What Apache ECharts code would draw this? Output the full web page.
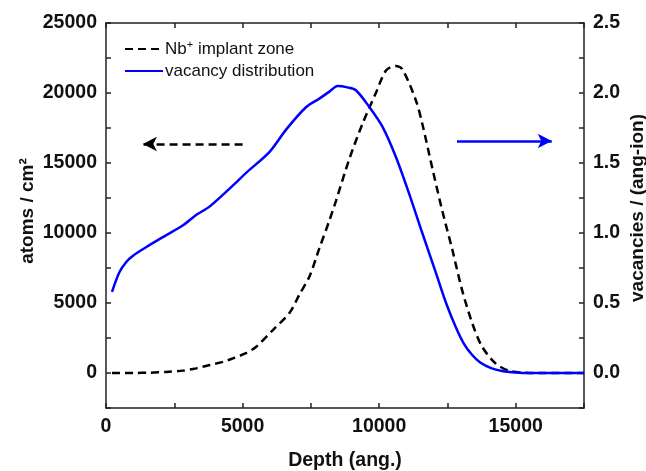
<!DOCTYPE html>
<html>
<head>
<meta charset="utf-8">
<script src="https://cdn.jsdelivr.net/npm/echarts@6/dist/echarts.min.js"></script>
<style>html,body{margin:0;padding:0;background:#fff;}#chart{width:646px;height:471px;}</style>
</head>
<body>
<div id="chart"></div>
<script>
// Depth (ang.) vs implanted atoms (left axis)
const implantDepth = [220,1000,1600,2200,2820,3300,3800,4300,4650,5100,5500,6110,6720,7080,7450,7810,8180,8420,8910,9390,9880,10250,10610,10850,11340,11580,11950,12310,12680,13040,13410,13770,14260,14750,15300,16000,17500];
const implantAtoms = [0,5,20,80,170,330,570,800,1050,1400,1880,3070,4300,5600,6900,8900,10900,12300,15300,17800,20000,21600,21930,21700,19500,17800,14600,11600,8800,5900,3550,1880,690,160,30,0,0];
// Depth (ang.) vs vacancies (right axis)
const vacDepth = [220,490,750,1000,1480,2210,2820,3310,3800,4650,5130,5990,6600,7330,7810,8180,8480,8840,9150,9640,10120,10610,11100,11580,12070,12450,12800,13100,13400,13700,14100,14500,15000,15500,16000,17500];
const vacValues = [0.58,0.72,0.795,0.84,0.90,0.985,1.055,1.13,1.19,1.34,1.43,1.58,1.74,1.90,1.96,2.01,2.05,2.04,2.02,1.90,1.76,1.545,1.28,1.0,0.72,0.50,0.33,0.21,0.13,0.075,0.035,0.015,0.004,0,0,0];
// Arrow annotations (data coordinates)
const leftArrow = {from:[5000,16360], to:[1350,16360]};
const rightArrow = {from:[12850,1.657], to:[16320,1.657]};

const seriesNames = ['Nb+ implant zone','vacancy distribution'];

const chart = echarts.init(document.getElementById('chart'));
const font = 'Liberation Sans, Arial, sans-serif';
const axisCol = '#222';
const tickLabel = {fontFamily: font, fontWeight: 'bold', fontSize: 19.5, color: '#111'};
const titleStyle = {fontFamily: font, fontWeight: 'bold', fontSize: 19.5, color: '#111'};

const option = {
  animation: false,
  grid: {left: 106, right: 62, top: 23, bottom: 63, outerBoundsMode: 'none', containLabel: false},
  legend: {
    left: 119, top: 34, orient: 'vertical', itemWidth: 38, itemHeight: 12, itemGap: 5,
    data: seriesNames,
    itemStyle: {opacity: 0},
    textStyle: {fontFamily: font, fontSize: 17, color: '#111', padding: [0,0,0,-3],
      rich: {n: {fontFamily: font, fontSize: 17, color: '#111'},
             s: {fontFamily: font, fontSize: 11, color: '#111', padding: [0,0,9,0]}}},
    formatter: function (name) {
      if (name === seriesNames[0]) return '{n|Nb}{s|+}{n| implant zone}';
      return '{n|' + name + '}';
    }
  },
  xAxis: [{
    type: 'value', min: 0, max: 17500, interval: 2500, position: 'bottom',
    name: 'Depth (ang.)', nameLocation: 'middle', nameGap: 43, nameMoveOverlap: false,
    nameTextStyle: titleStyle,
    axisLine: {onZero: false, lineStyle: {color: axisCol, width: 1.5}},
    axisTick: {inside: true, length: 5, lineStyle: {color: axisCol, width: 1.5}},
    axisLabel: Object.assign({margin: 9, formatter: v => (v % 5000 === 0 ? String(v) : '')}, tickLabel),
    splitLine: {show: false}
  }, {
    type: 'value', min: 0, max: 17500, interval: 2500, position: 'top',
    axisLine: {onZero: false, lineStyle: {color: axisCol, width: 1.5}},
    axisTick: {inside: true, length: 5, lineStyle: {color: axisCol, width: 1.5}},
    axisLabel: {show: false}, splitLine: {show: false}
  }],
  yAxis: [{
    type: 'value', min: -2500, max: 25000, interval: 2500, position: 'left',
    name: 'atoms / cm²', nameLocation: 'middle', nameGap: 69, nameMoveOverlap: false,
    nameTextStyle: Object.assign({}, titleStyle, {fontSize: 19, padding: [0, 0, 0, 9]}),
    axisLine: {show: true, onZero: false, lineStyle: {color: axisCol, width: 1.5}},
    axisTick: {show: true, inside: true, length: 5, lineStyle: {color: axisCol, width: 1.5}},
    axisLabel: Object.assign({margin: 9, formatter: v => (v % 5000 === 0 ? String(v) : '')}, tickLabel),
    splitLine: {show: false}
  }, {
    type: 'value', min: -0.25, max: 2.5, interval: 0.25, position: 'right',
    name: 'vacancies / (ang-ion)', nameLocation: 'middle', nameGap: 44, nameMoveOverlap: false,
    nameTextStyle: Object.assign({}, titleStyle, {fontSize: 19, padding: [0, 0, 0, 15]}),
    axisLine: {show: true, onZero: false, lineStyle: {color: axisCol, width: 1.5}},
    axisTick: {show: true, inside: true, length: 5, lineStyle: {color: axisCol, width: 1.5}},
    axisLabel: Object.assign({margin: 9, formatter: v => {
      const r = Math.round(v * 2);
      return (Math.abs(v * 2 - r) < 1e-6 && r >= 0) ? (r / 2).toFixed(1) : '';
    }}, tickLabel),
    splitLine: {show: false}
  }],
  series: [{
    name: seriesNames[0], type: 'line', xAxisIndex: 0, yAxisIndex: 0,
    data: implantDepth.map((d, i) => [d, implantAtoms[i]]),
    symbol: 'none', showSymbol: false, smooth: 0.3, color: '#000',
    lineStyle: {color: '#000', width: 2.5, type: [8, 5]},
    markLine: {
      silent: true, symbol: ['none', 'arrow'], symbolSize: [11, 14],
      label: {show: false},
      lineStyle: {color: '#000', width: 2.5, type: [8, 5]},
      data: [[{coord: leftArrow.from}, {coord: leftArrow.to}]]
    }
  }, {
    name: seriesNames[1], type: 'line', xAxisIndex: 0, yAxisIndex: 1,
    data: vacDepth.map((d, i) => [d, vacValues[i]]),
    symbol: 'none', showSymbol: false, smooth: 0.3, color: '#0000ff',
    lineStyle: {color: '#0000ff', width: 2.5, type: 'solid'},
    markLine: {
      silent: true, symbol: ['none', 'arrow'], symbolSize: [11, 14],
      label: {show: false},
      lineStyle: {color: '#0000ff', width: 2.5, type: 'solid'},
      data: [[{coord: rightArrow.from}, {coord: rightArrow.to}]]
    }
  }]
};
chart.setOption(option);
</script>
</body>
</html>
